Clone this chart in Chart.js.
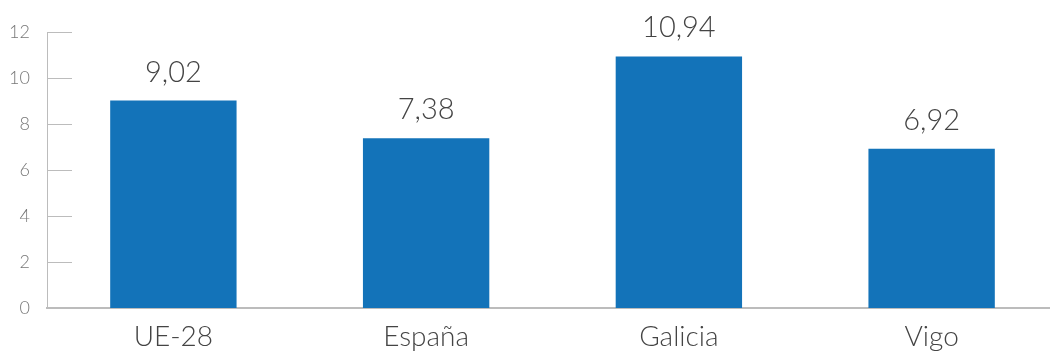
<!DOCTYPE html>
<html>
<head>
<meta charset="utf-8">
<script src="https://cdn.jsdelivr.net/npm/chart.js@4"></script>
<style>
  html, body { margin: 0; padding: 0; background: #fff; overflow: hidden; }
  #wrap { width: 1058px; height: 354px; }
</style>
</head>
<body>
<div id="wrap"><canvas id="grafico"></canvas></div>
<script>
// datos del gráfico
const categorias = ['UE-28', 'España', 'Galicia', 'Vigo'];
const valores = [9.02, 7.38, 10.94, 6.92];
const ticksY = [0, 2, 4, 6, 8, 10, 12];

const azul = '#1373b9';
const gris = '#bcbcbc';
const fuente = 'Lato, "Open Sans", sans-serif';

// marcas cortas del eje y, hacia dentro del área
const marcasY = {
  id: 'marcasY',
  afterDraw(chart) {
    const ctx = chart.ctx;
    const y = chart.scales.y;
    const izq = chart.chartArea.left;
    ctx.save();
    ctx.strokeStyle = gris;
    ctx.lineWidth = 1;
    ticksY.forEach(function (v) {
      if (v === 0) return;
      const py = Math.round(y.getPixelForValue(v)) + 0.5;
      ctx.beginPath();
      ctx.moveTo(izq, py);
      ctx.lineTo(izq + 25, py);
      ctx.stroke();
    });
    ctx.restore();
  }
};

// etiquetas de valor encima de las barras
const etiquetas = {
  id: 'etiquetas',
  afterDatasetsDraw(chart) {
    const ctx = chart.ctx;
    const meta = chart.getDatasetMeta(0);
    ctx.save();
    ctx.fillStyle = '#444';
    ctx.font = '300 29px ' + fuente;
    ctx.textAlign = 'center';
    ctx.textBaseline = 'alphabetic';
    meta.data.forEach(function (barra, i) {
      const txt = valores[i].toFixed(2).replace('.', ',');
      ctx.fillText(txt, barra.x, barra.y - 19);
    });
    ctx.restore();
  }
};

new Chart(document.getElementById('grafico'), {
  type: 'bar',
  data: {
    labels: categorias,
    datasets: [{
      data: valores,
      backgroundColor: azul,
      barPercentage: 0.5,
      categoryPercentage: 1
    }]
  },
  options: {
    responsive: true,
    maintainAspectRatio: false,
    animation: false,
    layout: { padding: { top: 32, bottom: 0, left: 0, right: 0 } },
    plugins: { legend: { display: false }, tooltip: { enabled: false } },
    scales: {
      x: {
        afterFit(scale) { scale.height = 46; },
        grid: { display: false, drawTicks: false },
        border: { display: true, color: gris, width: 2 },
        ticks: { color: '#444', padding: 12, font: { family: fuente, size: 28, weight: '300' } }
      },
      y: {
        min: 0,
        max: 12,
        afterBuildTicks(scale) { scale.ticks = ticksY.map(v => ({ value: v })); },
        afterFit(scale) { scale.width = 47; },
        grid: { display: false, drawTicks: false },
        border: { display: true, color: gris, width: 1 },
        ticks: { color: '#777', padding: 17, font: { family: fuente, size: 18, weight: '300' } }
      }
    }
  },
  plugins: [marcasY, etiquetas]
});
</script>
</body>
</html>
